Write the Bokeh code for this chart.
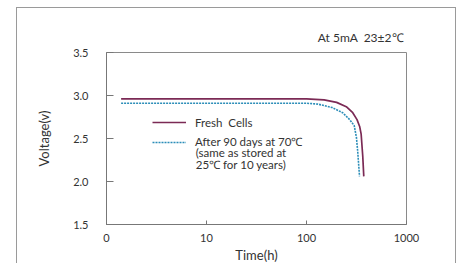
from bokeh.plotting import figure
from bokeh.models import (Range1d, FixedTicker, PrintfTickFormatter, Legend, LegendItem, Label)
from bokeh.embed import file_html
from bokeh.resources import INLINE

# ---- data ----
fresh_t = [1.4, 20, 100, 150, 200, 250, 290, 320, 340, 352, 365, 374]
fresh_v = [2.96, 2.96, 2.96, 2.95, 2.92, 2.87, 2.80, 2.72, 2.64, 2.55, 2.30, 2.06]
aged_t = [1.4, 20, 100, 130, 180, 230, 270, 300, 316, 325, 339]
aged_v = [2.91, 2.91, 2.91, 2.90, 2.86, 2.80, 2.72, 2.65, 2.51, 2.35, 2.06]
x_ticks = [1, 10, 100, 1000]
x_tick_labels = ["0", "10", "100", "1000"]
y_ticks = [1.5, 2.0, 2.5, 3.0, 3.5]
note_text = "At 5mA\u00a0\u00a023\u00b12\u2103"

FONT = "Lato"
TXT = "#333333"

p = figure(x_axis_type="log", output_backend="svg", toolbar_location=None,
           frame_width=300, frame_height=172,
           min_border_left=106, min_border_right=59, min_border_top=52, min_border_bottom=39,
           x_range=Range1d(1, 1000), y_range=Range1d(1.5, 3.5))
p.background_fill_color = "white"
p.border_fill_alpha = 0
p.grid.visible = False
p.outline_line_color = "#8a8a8a"
# outer page frame (decoration), drawn behind the transparent canvas border
p.styles = {
    "background-color": "white",
    "background-image": "linear-gradient(#9a9a9a,#9a9a9a), linear-gradient(#9a9a9a,#9a9a9a), linear-gradient(#9a9a9a,#9a9a9a)",
    "background-size": "1px 100%, 1px 100%, 440px 1px",
    "background-position": "16px 7px, 455px 7px, 16px 7px",
    "background-repeat": "no-repeat",
}

p.title.text = note_text
p.title.align = "right"
p.title.text_font = FONT
p.title.text_font_size = "12px"
p.title.text_font_style = "normal"
p.title.text_color = TXT
p.title.standoff = 15
p.title.offset = 3

for ax in (p.xaxis[0], p.yaxis[0]):
    ax.axis_line_color = "#777777"
    ax.major_tick_line_color = "#777777"
    ax.minor_tick_line_color = None
    ax.major_tick_out = 0
    ax.major_label_text_font = FONT
    ax.major_label_text_font_size = "11px"
    ax.major_label_text_color = TXT
    ax.axis_label_text_font = FONT
    ax.axis_label_text_font_size = "13px"
    ax.axis_label_text_font_style = "normal"
    ax.axis_label_text_color = TXT

p.xaxis.ticker = FixedTicker(ticks=x_ticks)
p.xaxis.major_label_overrides = {t: s for t, s in zip(x_ticks, x_tick_labels)}
p.xaxis.major_tick_in = 4
p.xaxis.major_label_standoff = 9
p.xaxis.axis_label = "Time(h)"
p.xaxis.axis_label_standoff = 2

p.yaxis.ticker = FixedTicker(ticks=y_ticks)
p.yaxis.formatter = PrintfTickFormatter(format="%.1f")
p.yaxis.major_tick_in = 7
p.yaxis.major_label_standoff = 18
p.yaxis.axis_label = "Voltage(v)"
p.yaxis.axis_label_standoff = 18

r1 = p.line(fresh_t, fresh_v, line_color="#7b2a55", line_width=1.7)
r2 = p.line(aged_t, aged_v, line_color="#2b8db8", line_width=1.6, line_dash="2 1")

legend = Legend(items=[LegendItem(label="Fresh\u00a0\u00a0Cells", renderers=[r1]),
                       LegendItem(label="After 90 days at 70\u2103", renderers=[r2])],
                location=(46, 75), padding=0, margin=0, spacing=5,
                glyph_width=34, glyph_height=14, label_height=14, label_standoff=9,
                border_line_color=None, background_fill_alpha=0,
                label_text_font=FONT, label_text_font_size="11.5px", label_text_color=TXT)
p.add_layout(legend, "center")

for y, txt in [(2.34, "(same as stored at"), (2.20, "25\u2103 for 10 years)")]:
    p.add_layout(Label(x=7.8, y=y, text=txt, text_font=FONT, text_font_size="11.5px",
                       text_color=TXT, text_baseline="middle", text_align="left"))

open("out.html", "w").write(file_html(p, INLINE))
